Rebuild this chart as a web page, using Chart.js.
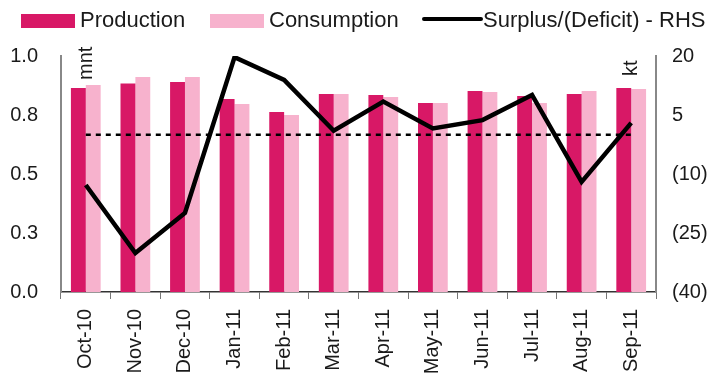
<!DOCTYPE html>
<html>
<head>
<meta charset="utf-8">
<script src="https://cdn.jsdelivr.net/npm/chart.js@4/dist/chart.umd.min.js"></script>
<style>
  html, body { margin: 0; padding: 0; background: #fff; }
  #wrap { width: 709px; height: 373px; position: relative; }
</style>
</head>
<body>
<div id="wrap"><canvas id="chart"></canvas></div>
<script>
const months = ['Oct-10', 'Nov-10', 'Dec-10', 'Jan-11', 'Feb-11', 'Mar-11',
                'Apr-11', 'May-11', 'Jun-11', 'Jul-11', 'Aug-11', 'Sep-11'];

// mnt, left axis
const production  = [0.864, 0.883, 0.890, 0.818, 0.763, 0.839, 0.835, 0.801, 0.852, 0.830, 0.839, 0.864];
const consumption = [0.877, 0.911, 0.911, 0.797, 0.750, 0.839, 0.826, 0.801, 0.847, 0.801, 0.852, 0.860];

// kt, right axis
const surplus = [-12.8, -30.1, -19.9, 19.7, 13.9, 1.0, 8.4, 1.6, 3.7, 10.1, -12.0, 3.0];
const zeroLine = months.map(() => 0);

const leftTicks  = ['0.0', '0.3', '0.5', '0.8', '1.0'];
const rightTicks = ['(40)', '(25)', '(10)', '5', '20'];

const FONT = '"Liberation Sans", Arial, Helvetica, sans-serif';
Chart.defaults.font.family = FONT;
Chart.defaults.color = '#1a1a1a';

// legend row across the top: two swatches and a line sample
const topLegend = {
  id: 'topLegend',
  afterDraw(chart) {
    const { ctx } = chart;
    const ds = chart.data.datasets;
    const entries = [
      { x: 21,  text: ds[2].label, color: ds[2].backgroundColor, kind: 'box' },
      { x: 210, text: ds[3].label, color: ds[3].backgroundColor, kind: 'box' },
      { x: 422, text: ds[0].label, color: ds[0].borderColor, kind: 'line' }
    ];
    ctx.save();
    ctx.font = '22px ' + FONT;
    ctx.textBaseline = 'middle';
    ctx.textAlign = 'left';
    entries.forEach((e) => {
      if (e.kind === 'box') {
        ctx.fillStyle = e.color;
        ctx.fillRect(e.x, 14, 54, 14);
        ctx.fillStyle = '#1a1a1a';
        ctx.fillText(e.text, e.x + 59, 21);
      } else {
        ctx.strokeStyle = e.color;
        ctx.lineWidth = 4;
        ctx.lineCap = 'round';
        ctx.beginPath();
        ctx.moveTo(e.x + 2, 19);
        ctx.lineTo(e.x + 59, 19);
        ctx.stroke();
        ctx.fillStyle = '#1a1a1a';
        ctx.fillText(e.text, e.x + 61, 21);
      }
    });
    ctx.restore();
  }
};

// unit labels sitting inside the plot
const unitLabels = {
  id: 'unitLabels',
  afterDraw(chart) {
    const { ctx, chartArea } = chart;
    ctx.save();
    ctx.font = '20px ' + FONT;
    ctx.fillStyle = '#1a1a1a';
    ctx.textAlign = 'left';
    ctx.textBaseline = 'alphabetic';

    ctx.save();
    ctx.translate(chartArea.left + 31, chartArea.top + 24);
    ctx.rotate(-Math.PI / 2);
    ctx.fillText('mnt', 0, 0);
    ctx.restore();

    ctx.save();
    ctx.translate(chartArea.right - 19, chartArea.top + 20);
    ctx.rotate(-Math.PI / 2);
    ctx.fillText('kt', 0, 0);
    ctx.restore();

    ctx.restore();
  }
};

const ctx = document.getElementById('chart');
new Chart(ctx, {
  data: {
    labels: months,
    datasets: [
      {
        type: 'line',
        label: 'Surplus/(Deficit) - RHS',
        data: surplus,
        yAxisID: 'y2',
        borderColor: '#000',
        backgroundColor: '#000',
        borderWidth: 4.5,
        pointRadius: 0,
        tension: 0,
        order: 0
      },
      {
        type: 'line',
        label: 'zero',
        data: zeroLine,
        yAxisID: 'y2',
        borderColor: '#000',
        borderWidth: 2.5,
        borderDash: [5, 5],
        pointRadius: 0,
        order: 1
      },
      {
        type: 'bar',
        label: 'Production',
        data: production,
        yAxisID: 'y',
        backgroundColor: '#d81866',
        categoryPercentage: 0.6,
        barPercentage: 1.0,
        order: 2
      },
      {
        type: 'bar',
        label: 'Consumption',
        data: consumption,
        yAxisID: 'y',
        backgroundColor: '#f7b2cd',
        categoryPercentage: 0.6,
        barPercentage: 1.0,
        order: 2
      }
    ]
  },
  options: {
    responsive: true,
    maintainAspectRatio: false,
    animation: false,
    layout: { padding: { top: 56, left: 0, right: 0, bottom: 0 } },
    plugins: {
      tooltip: { enabled: false },
      legend: { display: false }
    },
    scales: {
      x: {
        offset: true,
        grid: {
          offset: true,
          drawOnChartArea: false,
          drawTicks: true,
          tickLength: 7,
          color: '#777',
          lineWidth: 1
        },
        border: { color: '#333', width: 1.5 },
        ticks: {
          font: { size: 20 },
          color: '#1a1a1a',
          minRotation: 90,
          maxRotation: 90,
          padding: 10,
          autoSkip: false
        },
        afterFit(scale) { scale.height = 81; }
      },
      y: {
        position: 'left',
        min: 0,
        max: 1,
        grid: { display: false, drawTicks: false },
        border: { color: '#888', width: 2 },
        ticks: {
          stepSize: 0.25,
          font: { size: 20 },
          color: '#1a1a1a',
          padding: 23,
          callback: (v, i) => leftTicks[i]
        },
        afterFit(scale) { scale.width = 61; }
      },
      y2: {
        position: 'right',
        min: -40,
        max: 20,
        grid: { display: false, drawTicks: false },
        border: { color: '#888', width: 2 },
        ticks: {
          stepSize: 15,
          font: { size: 20 },
          color: '#1a1a1a',
          padding: 16,
          callback: (v, i) => rightTicks[i]
        },
        afterFit(scale) { scale.width = 53; }
      }
    }
  },
  plugins: [topLegend, unitLabels]
});
</script>
</body>
</html>
